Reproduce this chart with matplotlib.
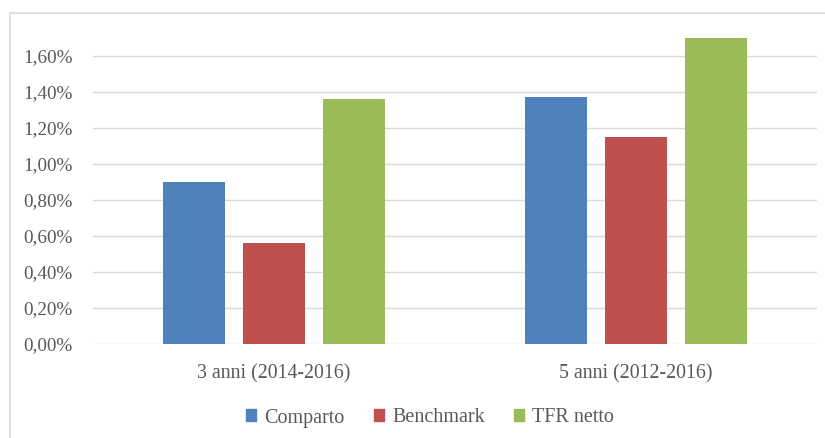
import matplotlib
matplotlib.use("Agg")
import matplotlib.pyplot as plt
from matplotlib.patches import Rectangle, Patch
from matplotlib.ticker import FuncFormatter
import numpy as np

categories = ["3 anni (2014-2016)", "5 anni (2012-2016)"]
series_names = ["Comparto", "Benchmark", "TFR netto"]
comparto = [0.90, 1.37]
benchmark = [0.56, 1.15]
tfr_netto = [1.36, 1.70]
colors = ["#4F81BD", "#C0504D", "#9BBB59"]

plt.rcParams['font.family'] = ['Liberation Serif', 'DejaVu Serif']

fig = plt.figure(figsize=(8.25, 4.38), dpi=100)
fig.patches.append(Rectangle((10/825, -0.05), 1.0, (438-13)/438 + 0.05,
                             transform=fig.transFigure, fill=False,
                             edgecolor="#d9d9d9", linewidth=1.2))
ax = fig.add_axes([93/825, (438-344)/438, (817-93)/825, (344-20)/438])

x = np.arange(len(categories))
w = 62/362
step = 80/362
for i, (vals, name) in enumerate(zip([comparto, benchmark, tfr_netto], series_names)):
    ax.bar(x + (i-1)*step, vals, width=w, color=colors[i], label=name, zorder=3)

ax.set_xlim(-0.5, 1.5)
ax.set_ylim(0, 1.8)
ax.set_yticks(np.arange(0, 1.61, 0.2))
ax.yaxis.set_major_formatter(FuncFormatter(lambda v, p: f"{v:.2f}%".replace(".", ",")))
ax.grid(axis="y", color="#d9d9d9", linewidth=1, zorder=0)
for s in ax.spines.values():
    s.set_visible(False)
ax.tick_params(axis="y", length=0, colors="#595959", labelsize=13.8, pad=14.5)
ax.tick_params(axis="x", length=0, colors="#595959", labelsize=14.3, pad=14.5)
ax.set_xticks(x)
ax.set_xticklabels(categories)

handles = [Patch(color=c) for c in colors]
fig.legend(handles, series_names, loc="center", bbox_to_anchor=(430/825, (438-418)/438),
           ncol=3, frameon=False, fontsize=14.5, handlelength=0.52, handleheight=0.52,
           handletextpad=0.4, columnspacing=1.45, labelcolor="#595959")

fig.savefig("out.png", dpi=100)
